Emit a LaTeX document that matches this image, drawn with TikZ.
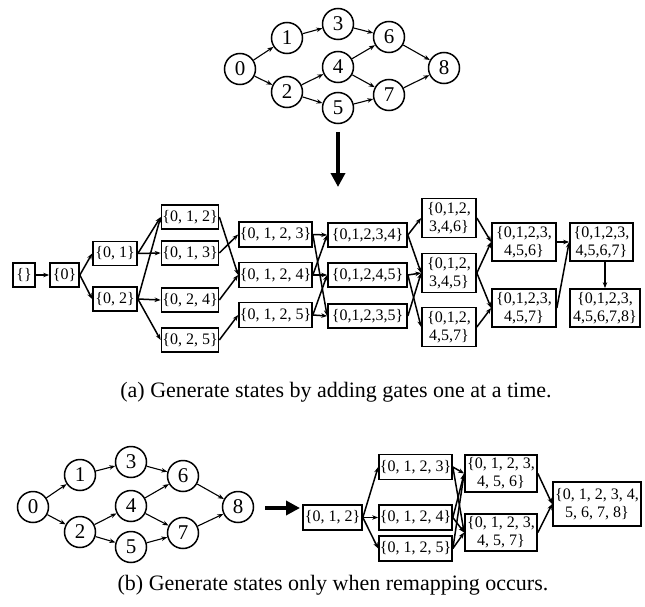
\documentclass[tikz,border=0pt]{standalone}
\usepackage{fontspec}
\setmainfont{Liberation Serif}
\usetikzlibrary{arrows.meta}
\begin{document}
\begin{tikzpicture}[x=1pt,y=-1pt,
 gnode/.style={circle,draw,line width=1.5pt,minimum size=31pt,inner sep=0pt,font=\fontsize{21}{21}\selectfont},
 gedge/.style={-{Stealth[length=6pt,width=4.5pt]},line width=1.1pt},
 sbox/.style={draw,line width=1.7pt,inner sep=0pt,minimum height=24pt,align=center,font=\fontsize{16}{18}\selectfont},
 sedge/.style={-{Stealth[length=6pt,width=4.5pt]},line width=1.5pt},
 bigarrow/.style={-{Triangle[length=14pt,width=14pt]},line width=3.5pt},
 captext/.style={font=\fontsize{22}{22}\selectfont,anchor=base}
]
\useasboundingbox (0,0) rectangle (645,607);

% ---------- top gate graph ----------
\node[gnode] (t0) at (240,69) {0};
\node[gnode] (t1) at (287,38) {1};
\node[gnode] (t3) at (338,24) {3};
\node[gnode] (t6) at (389,37) {6};
\node[gnode] (t4) at (338,67) {4};
\node[gnode] (t2) at (287,92) {2};
\node[gnode] (t5) at (338,108) {5};
\node[gnode] (t7) at (389,95) {7};
\node[gnode] (t8) at (444,68) {8};
\foreach \a/\b in {t0/t1,t0/t2,t1/t3,t2/t4,t2/t5,t3/t6,t4/t6,t4/t7,t5/t7,t6/t8,t7/t8}
  \draw[gedge] (\a) -- (\b);

\coordinate (tA) at (338,132);
\coordinate (tB) at (338,187);
\draw[bigarrow] (tA) -- (tB);

% ---------- state graph (a) ----------
\node[sbox,minimum width=22pt] (m0) at (24,275) {\{\}};
\node[sbox,minimum width=29pt] (m1) at (64.5,275) {\{0\}};
\node[sbox,minimum width=44pt] (m2a) at (115,253.5) {\{0, 1\}};
\node[sbox,minimum width=44pt] (m2b) at (115,299) {\{0, 2\}};
\node[sbox,minimum width=57pt] (m3a) at (190,217) {\{0, 1, 2\}};
\node[sbox,minimum width=57pt] (m3b) at (190,253) {\{0, 1, 3\}};
\node[sbox,minimum width=57pt] (m3c) at (190,300) {\{0, 2, 4\}};
\node[sbox,minimum width=57pt] (m3d) at (190,340) {\{0, 2, 5\}};
\node[sbox,minimum width=73pt,minimum height=25pt] (m4a) at (275.5,234.5) {\{0, 1, 2, 3\}};
\node[sbox,minimum width=73pt,minimum height=25pt] (m4b) at (275.5,275) {\{0, 1, 2, 4\}};
\node[sbox,minimum width=73pt,minimum height=25pt] (m4c) at (275.5,315) {\{0, 1, 2, 5\}};
\node[sbox,minimum width=79pt] (m5a) at (367.5,235) {\{0,1,2,3,4\}};
\node[sbox,minimum width=79pt] (m5b) at (367.5,275) {\{0,1,2,4,5\}};
\node[sbox,minimum width=79pt] (m5c) at (367.5,316) {\{0,1,2,3,5\}};
\node[sbox,minimum width=54pt,minimum height=39pt] (m6a) at (449,218) {\{0,1,2,\\3,4,6\}};
\node[sbox,minimum width=54pt,minimum height=39pt] (m6b) at (449,273) {\{0,1,2,\\3,4,5\}};
\node[sbox,minimum width=54pt,minimum height=39pt] (m6c) at (449,327) {\{0,1,2,\\4,5,7\}};
\node[sbox,minimum width=64pt,minimum height=38pt] (m7a) at (524,242) {\{0,1,2,3,\\4,5,6\}};
\node[sbox,minimum width=64pt,minimum height=38pt] (m7b) at (524,308) {\{0,1,2,3,\\4,5,7\}};
\node[sbox,minimum width=63pt,minimum height=38pt] (m8a) at (601.5,242) {\{0,1,2,3,\\4,5,6,7\}};
\node[sbox,minimum width=70pt,minimum height=38pt] (m8b) at (605,308) {\{0,1,2,3,\\4,5,6,7,8\}};

\foreach \a/\b in {m0/m1,m1/m2a,m1/m2b,m2a/m3a,m2a/m3b,m2b/m3a,m2b/m3c,m2b/m3d,
  m3a/m4b,m3b/m4a,m3c/m4b,m3d/m4c,
  m4a/m5a,m4a/m5c,m4b/m5a,m4b/m5b,m4c/m5b,m4c/m5c,
  m5a/m6a,m5a/m6b,m5b/m6b,m5b/m6c,m5c/m6b,
  m6a/m7a,m6b/m7a,m6b/m7b,m6c/m7b,
  m7a/m8a,m7b/m8a}
  \draw[sedge] (\a.east) -- (\b.west);
\draw[sedge] (m8b.north |- m8a.south) -- (m8b.north);

\node[captext] (capa) at (336,397) {(a) Generate states by adding gates one at a time.};

% ---------- bottom gate graph ----------
\node[gnode] (b0) at (33,507) {0};
\node[gnode] (b1) at (80,475) {1};
\node[gnode] (b3) at (131,462) {3};
\node[gnode] (b6) at (183,476) {6};
\node[gnode] (b4) at (131,506) {4};
\node[gnode] (b2) at (80,532) {2};
\node[gnode] (b5) at (131,547) {5};
\node[gnode] (b7) at (183,533) {7};
\node[gnode] (b8) at (238,507) {8};
\foreach \a/\b in {b0/b1,b0/b2,b1/b3,b2/b4,b2/b5,b3/b6,b4/b6,b4/b7,b5/b7,b6/b8,b7/b8}
  \draw[gedge] (\a) -- (\b);

\coordinate (bA) at (265,508);
\coordinate (bB) at (300,508);
\draw[bigarrow] (bA) -- (bB);

% ---------- state graph (b) ----------
\node[sbox,minimum width=59pt,minimum height=25pt] (n0) at (332.5,517.5) {\{0, 1, 2\}};
\node[sbox,minimum width=73pt,minimum height=25pt] (n1a) at (415.5,467) {\{0, 1, 2, 3\}};
\node[sbox,minimum width=73pt,minimum height=25pt] (n1b) at (415.5,517.5) {\{0, 1, 2, 4\}};
\node[sbox,minimum width=73pt,minimum height=25pt] (n1c) at (415.5,548.5) {\{0, 1, 2, 5\}};
\node[sbox,minimum width=72pt,minimum height=37pt] (n2a) at (501,473.5) {\{0, 1, 2, 3,\\4, 5, 6\}};
\node[sbox,minimum width=72pt,minimum height=37pt] (n2b) at (501,532.5) {\{0, 1, 2, 3,\\4, 5, 7\}};
\node[sbox,minimum width=88pt,minimum height=44pt] (n3) at (597,504) {\{0, 1, 2, 3, 4,\\5, 6, 7, 8\}};

\foreach \a/\b in {n0/n1a,n0/n1b,n0/n1c,
  n1a/n2a,n1a/n2b,n1b/n2a,n1b/n2b,n1c/n2a,n1c/n2b,
  n2a/n3,n2b/n3}
  \draw[sedge] (\a.east) -- (\b.west);

\node[captext] (capb) at (333,590) {(b) Generate states only when remapping occurs.};
\end{tikzpicture}
\end{document}
